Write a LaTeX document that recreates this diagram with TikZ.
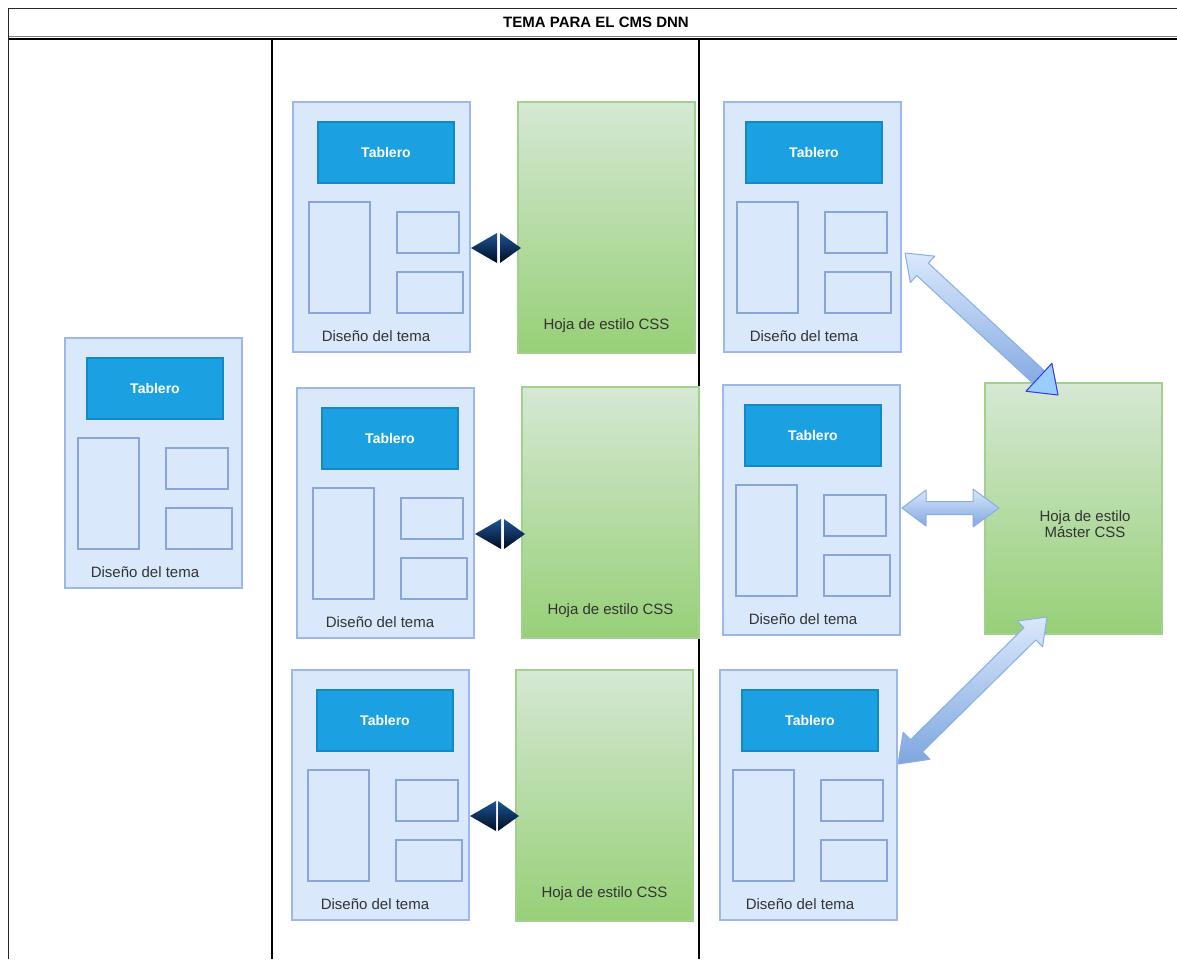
\documentclass[tikz,border=0pt]{standalone}
\usepackage{fontspec}
\setmainfont{Liberation Sans}
\usetikzlibrary{calc}
\definecolor{tfill}{HTML}{DAE8FC}
\definecolor{tline}{HTML}{9DB8E6}
\definecolor{iline}{HTML}{88A6DA}
\definecolor{tabfill}{HTML}{1BA1E2}
\definecolor{tabline}{HTML}{1588C8}
\definecolor{gtop}{HTML}{D5E8D4}
\definecolor{gbot}{HTML}{97D077}
\definecolor{gline}{HTML}{A3CF8F}
\definecolor{txt}{HTML}{333333}
\definecolor{atop}{HTML}{DAE8FC}
\definecolor{abot}{HTML}{7EA6E0}
\definecolor{aline}{HTML}{8AAEE0}
\definecolor{dtop}{HTML}{1D5595}
\definecolor{dbot}{HTML}{000C22}
\definecolor{selfill}{HTML}{99CCFF}
\definecolor{selline}{HTML}{3A3AF0}
\tikzset{
 every node/.style={inner sep=0pt, outer sep=0pt},
 tbox/.style={draw=tline, fill=tfill, line width=1.2pt, minimum width=177pt, minimum height=250pt, anchor=north west},
 tabbox/.style={draw=tabline, fill=tabfill, line width=1.2pt, minimum width=136pt, minimum height=61pt, anchor=north west, text=white, font=\fontsize{14}{17}\selectfont\bfseries},
 part/.style={draw=iline, fill=tfill, line width=1.4pt, anchor=north west},
 lbl/.style={text=txt, font=\fontsize{15}{18}\selectfont},
 cssbox/.style={draw=gline, top color=gtop, bottom color=gbot, line width=1.2pt, minimum width=177pt, minimum height=251pt, anchor=north west},
 flex/.style={draw=aline, top color=atop, bottom color=abot, line width=1pt, line join=round},
 selhead/.style={draw=selline, fill=selfill, line width=1pt, line join=round},
 darkhead/.style={top color=dtop, bottom color=dbot, draw=none},
 lane/.style={draw=black, line width=1.3pt},
 frameline/.style={draw=black!85, line width=0.9pt},
}
\newcommand\themegroup[4]{%
 \node[tbox] (#1) at (#2,#3) {};
 \node[tabbox] (#1-tab) at ($(#1.north west)+(22+#4,20)$) {Tablero};
 \node[part, minimum width=61pt, minimum height=111pt] (#1-tall) at ($(#1.north west)+(13+#4,100)$) {};
 \node[part, minimum width=62pt, minimum height=41pt] (#1-s1) at ($(#1.north west)+(101+#4,110)$) {};
 \node[part, minimum width=66pt, minimum height=41pt] (#1-s2) at ($(#1.north west)+(101+#4,170)$) {};
 \node[lbl] (#1-lbl) at ($(#1.south west)+(80+#4,-16)$) {Diseño del tema};
}
\newcommand\cssgroup[3]{%
 \node[cssbox] (#1) at (#2,#3) {};
 \node[lbl] (#1-lbl) at ($(#1.south)+(0,-27)$) {Hoja de estilo CSS};
}
\newcommand\darkarrow[3]{%
 \coordinate (#1a) at ($(#2.north east)+(1,146)$);
 \coordinate (#1b) at ($(#1a -| #3.west)+(3,0)$);
 \path[darkhead] (#1a) -- ++(26,-15) -- ++(0,30) -- cycle;
 \path[darkhead] (#1b) -- ++(-21,-15) -- ++(0,30) -- cycle;
}
% #1 start, #2 end, #3 shaft half width
\newcommand\flexarrow[3]{%
 \path[flex] (#1)
 -- ($(#1)!24pt!(#2)!18pt!90:(#2)$)
 -- ($(#1)!24pt!(#2)!#3!90:(#2)$)
 -- ($(#2)!26pt!(#1)!#3!-90:(#1)$)
 -- ($(#2)!26pt!(#1)!19pt!-90:(#1)$)
 -- (#2)
 -- ($(#2)!26pt!(#1)!19pt!90:(#1)$)
 -- ($(#2)!26pt!(#1)!#3!90:(#1)$)
 -- ($(#1)!24pt!(#2)!#3!-90:(#2)$)
 -- ($(#1)!24pt!(#2)!18pt!-90:(#2)$)
 -- cycle;
}
\begin{document}
\begin{tikzpicture}[x=1pt,y=-1pt]
\useasboundingbox (0,0) rectangle (1177,959);
% frame
\draw[frameline] (8,8) -- (1177,8);
\draw[draw=gray, line width=0.8pt] (8,36) -- (1177,36);
\draw[draw=black, line width=1.3pt] (8,39) -- (1177,39);
\draw[frameline] (8,8) -- (8,959);
\draw[lane] (272,39) -- (272,959);
\draw[lane] (699,39) -- (699,959);
\node[font=\fontsize{15}{18}\selectfont\bfseries] (title) at (596,22) {TEMA PARA EL CMS DNN};
% left lane
\themegroup{lt}{65}{338}{0}
% middle lane
\themegroup{mt}{293}{102}{3}
\themegroup{mm}{297}{388}{3}
\themegroup{mb}{292}{670}{3}
\cssgroup{cssa}{518}{102}
\cssgroup{cssb}{522}{387}
\cssgroup{cssc}{516}{670}
\darkarrow{da}{mt}{cssa}
\darkarrow{db}{mm}{cssb}
\darkarrow{dc}{mb}{cssc}
% right lane
\themegroup{rt}{724}{102}{0}
\themegroup{rm}{723}{385}{0}
\themegroup{rb}{720}{670}{0}
\node[cssbox] (master) at (985,383) {};
\node[lbl, align=center, font=\fontsize{15}{16.5}\selectfont] (master-lbl) at (1085,524) {Hoja de estilo\\Máster CSS};
\coordinate (a1s) at ($(rt.north east)+(4,151)$);
\coordinate (a1e) at ($(master.north west)+(73,12)$);
\coordinate (a2s) at ($(rm.east)+(2,-2)$);
\coordinate (a2e) at ($(rm.east -| master.west)+(14,-2)$);
\coordinate (a3s) at ($(master.south west)+(62,-17)$);
\coordinate (a3e) at ($(rb.north east)+(1,94)$);
\flexarrow{a1s}{a1e}{8.5pt}
\path[selhead] (a1e) -- ($(a1e)!26pt!(a1s)!19pt!90:(a1s)$) -- ($(a1e)!26pt!(a1s)!19pt!-90:(a1s)$) -- cycle;
\flexarrow{a2s}{a2e}{6.5pt}
\flexarrow{a3s}{a3e}{8.5pt}
\end{tikzpicture}
\end{document}
